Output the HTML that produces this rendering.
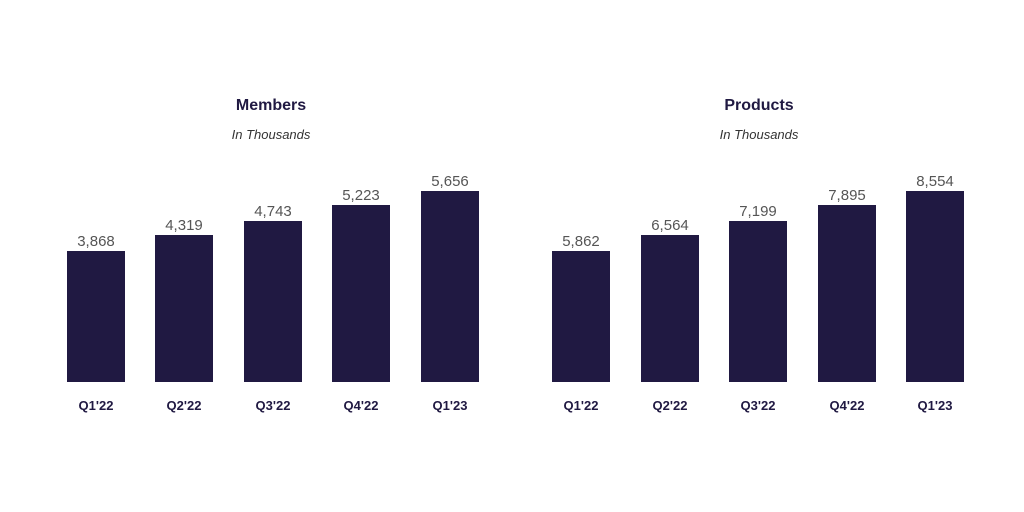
<!DOCTYPE html>
<html><head><meta charset="utf-8"><style>
html,body{margin:0;padding:0;background:#fff;width:1024px;height:512px;overflow:hidden}
svg{display:block}
text{font-family:"Liberation Sans",sans-serif}
</style></head><body>
<svg width="1024" height="512" viewBox="0 0 1024 512">
<g fill="#201942">
<rect x="67" y="251" width="58" height="131"/>
<rect x="155" y="235" width="58" height="147"/>
<rect x="244" y="221" width="58" height="161"/>
<rect x="332" y="205" width="58" height="177"/>
<rect x="421" y="191" width="58" height="191"/>
<rect x="552" y="251" width="58" height="131"/>
<rect x="641" y="235" width="58" height="147"/>
<rect x="729" y="221" width="58" height="161"/>
<rect x="818" y="205" width="58" height="177"/>
<rect x="906" y="191" width="58" height="191"/>
</g>
<g font-size="16" font-weight="bold" fill="#201942" text-anchor="middle">
<text x="271" y="110">Members</text>
<text x="759" y="110">Products</text>
</g>
<g font-size="13" font-style="italic" fill="#333" text-anchor="middle">
<text x="271" y="139">In Thousands</text>
<text x="759" y="139">In Thousands</text>
</g>
<g font-size="15" fill="#555" text-anchor="middle">
<text x="96" y="246">3,868</text>
<text x="184" y="230">4,319</text>
<text x="273" y="216">4,743</text>
<text x="361" y="200">5,223</text>
<text x="450" y="186">5,656</text>
<text x="581" y="246">5,862</text>
<text x="670" y="230">6,564</text>
<text x="758" y="216">7,199</text>
<text x="847" y="200">7,895</text>
<text x="935" y="186">8,554</text>
</g>
<g font-size="13" font-weight="bold" fill="#201942" text-anchor="middle">
<text x="96" y="410">Q1'22</text>
<text x="184" y="410">Q2'22</text>
<text x="273" y="410">Q3'22</text>
<text x="361" y="410">Q4'22</text>
<text x="450" y="410">Q1'23</text>
<text x="581" y="410">Q1'22</text>
<text x="670" y="410">Q2'22</text>
<text x="758" y="410">Q3'22</text>
<text x="847" y="410">Q4'22</text>
<text x="935" y="410">Q1'23</text>
</g>
</svg>
</body></html>
